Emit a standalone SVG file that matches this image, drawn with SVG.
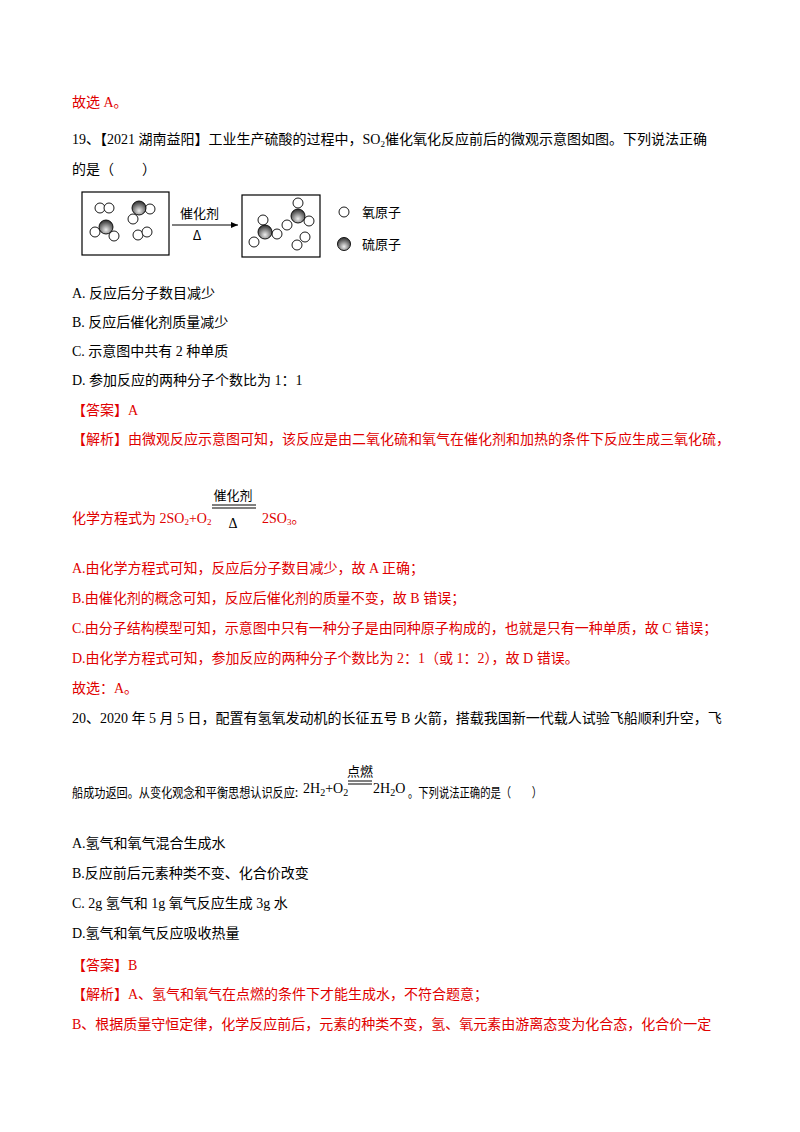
<svg xmlns="http://www.w3.org/2000/svg" width="800" height="1132" viewBox="0 0 800 1132">
<style>
text{font-family:"Liberation Serif","Noto Sans CJK SC",serif;font-size:14px;fill:#000}
.r{fill:#e00000}
.s{font-family:"Noto Sans CJK SC",sans-serif;font-size:13px}
.o{fill:#fff;stroke:#000;stroke-width:0.9}
.S{fill:url(#g);stroke:#000;stroke-width:0.9}
.box{fill:#fff;stroke:#000;stroke-width:1.2}
line{stroke:#000}
</style>
<defs>
<radialGradient id="g" cx="0.5" cy="0.7" r="0.6"><stop offset="0" stop-color="#eee"/><stop offset="1" stop-color="#444"/></radialGradient>
<marker id="ar" markerWidth="8" markerHeight="8" refX="7" refY="4" orient="auto"><path d="M0,1 L7,4 L0,7z" fill="#000"/></marker>
</defs>
<rect width="800" height="1132" fill="#fff"/>
<text x="72" y="107" class="r">故选 A。</text>
<text x="72" y="144">19、【2021 湖南益阳】工业生产硫酸的过程中，SO<tspan font-size="9" dy="3">2</tspan><tspan dy="-3">催化氧化反应前后的微观示意图如图。下列说法正确</tspan></text>
<text x="72" y="174">的是（　　）</text>
<g id="before">
<rect class="box" x="82" y="192" width="87" height="63"/>
<circle class="o" cx="100" cy="208" r="5"/><circle class="o" cx="109" cy="208" r="5"/>
<circle class="o" cx="150" cy="209" r="5"/><circle class="o" cx="133" cy="219" r="5"/><circle class="S" cx="139" cy="208" r="7"/>
<circle class="o" cx="95" cy="232" r="5"/><circle class="o" cx="114" cy="236" r="5"/><circle class="S" cx="106" cy="227" r="7"/>
<circle class="o" cx="138" cy="235" r="5"/><circle class="o" cx="147" cy="232" r="5"/>
</g>
<g id="connectors">
<line x1="172" y1="225" x2="238" y2="225" marker-end="url(#ar)"/>
</g>
<text x="180" y="218" class="s">催化剂</text>
<text x="197" y="240" class="s" text-anchor="middle">Δ</text>
<g id="after">
<rect class="box" x="242" y="195" width="78" height="62"/>
<circle class="o" cx="263" cy="220" r="5"/><circle class="o" cx="254" cy="242" r="5"/><circle class="o" cx="277" cy="234" r="5"/><circle class="S" cx="265" cy="232" r="7"/>
<circle class="o" cx="298" cy="203" r="5"/><circle class="o" cx="287" cy="225" r="5"/><circle class="o" cx="309" cy="221" r="5"/><circle class="S" cx="298" cy="216" r="7"/>
<circle class="o" cx="305" cy="237" r="5"/><circle class="o" cx="297" cy="245" r="5"/>
</g>
<g id="legend">
<circle class="o" cx="344" cy="212" r="5"/><text x="362" y="217" class="s">氧原子</text>
<circle class="S" cx="344" cy="244" r="6.5"/><text x="362" y="249" class="s">硫原子</text>
</g>
<text x="72" y="298">A. 反应后分子数目减少</text>
<text x="72" y="327">B. 反应后催化剂质量减少</text>
<text x="72" y="356">C. 示意图中共有 2 种单质</text>
<text x="72" y="385">D. 参加反应的两种分子个数比为 1：1</text>
<text x="72" y="415" class="r">【答案】A</text>
<text x="72" y="444" class="r">【解析】由微观反应示意图可知，该反应是由二氧化硫和氧气在催化剂和加热的条件下反应生成三氧化硫，</text>
<text x="72" y="523" class="r">化学方程式为 2SO<tspan font-size="9" dy="2">2</tspan><tspan dy="-2">+O</tspan><tspan font-size="9" dy="2">2</tspan></text>
<text x="233" y="500" text-anchor="middle" class="s" font-size="16">催化剂</text>
<line x1="212" y1="505" x2="256" y2="505"/><line x1="212" y1="508" x2="256" y2="508"/>
<text x="233" y="528" text-anchor="middle">Δ</text>
<text x="262" y="523" class="r">2SO<tspan font-size="9" dy="2">3</tspan><tspan dy="-2">。</tspan></text>
<text x="72" y="573" class="r">A.由化学方程式可知，反应后分子数目减少，故 A 正确；</text>
<text x="72" y="603" class="r">B.由催化剂的概念可知，反应后催化剂的质量不变，故 B 错误；</text>
<text x="72" y="633" class="r">C.由分子结构模型可知，示意图中只有一种分子是由同种原子构成的，也就是只有一种单质，故 C 错误；</text>
<text x="72" y="663" class="r">D.由化学方程式可知，参加反应的两种分子个数比为 2：1（或 1：2），故 D 错误。</text>
<text x="72" y="693" class="r">故选：A。</text>
<text x="72" y="723">20、2020 年 5 月 5 日，配置有氢氧发动机的长征五号 B 火箭，搭载我国新一代载人试验飞船顺利升空，飞</text>
<text x="72" y="797" class="s" font-size="12" textLength="226" lengthAdjust="spacingAndGlyphs">船成功返回。从变化观念和平衡思想认识反应:</text>
<text x="303" y="793" font-size="16">2H<tspan font-size="10" dy="3">2</tspan><tspan dy="-3">+O</tspan><tspan font-size="10" dy="3">2</tspan></text>
<text x="360" y="776" class="s" font-size="12" text-anchor="middle">点燃</text>
<line x1="348" y1="781" x2="372" y2="781"/><line x1="348" y1="784" x2="372" y2="784"/>
<text x="373" y="793" font-size="16">2H<tspan font-size="10" dy="3">2</tspan><tspan dy="-3">O</tspan></text>
<text x="408" y="797" class="s" font-size="12" textLength="134" lengthAdjust="spacingAndGlyphs">。下列说法正确的是（　　）</text>
<text x="72" y="848">A.氢气和氧气混合生成水</text>
<text x="72" y="878">B.反应前后元素种类不变、化合价改变</text>
<text x="72" y="908">C. 2g 氢气和 1g 氧气反应生成 3g 水</text>
<text x="72" y="938">D.氢气和氧气反应吸收热量</text>
<text x="72" y="970" class="r">【答案】B</text>
<text x="72" y="999" class="r">【解析】A、氢气和氧气在点燃的条件下才能生成水，不符合题意；</text>
<text x="72" y="1029" class="r">B、根据质量守恒定律，化学反应前后，元素的种类不变，氢、氧元素由游离态变为化合态，化合价一定</text>
</svg>
